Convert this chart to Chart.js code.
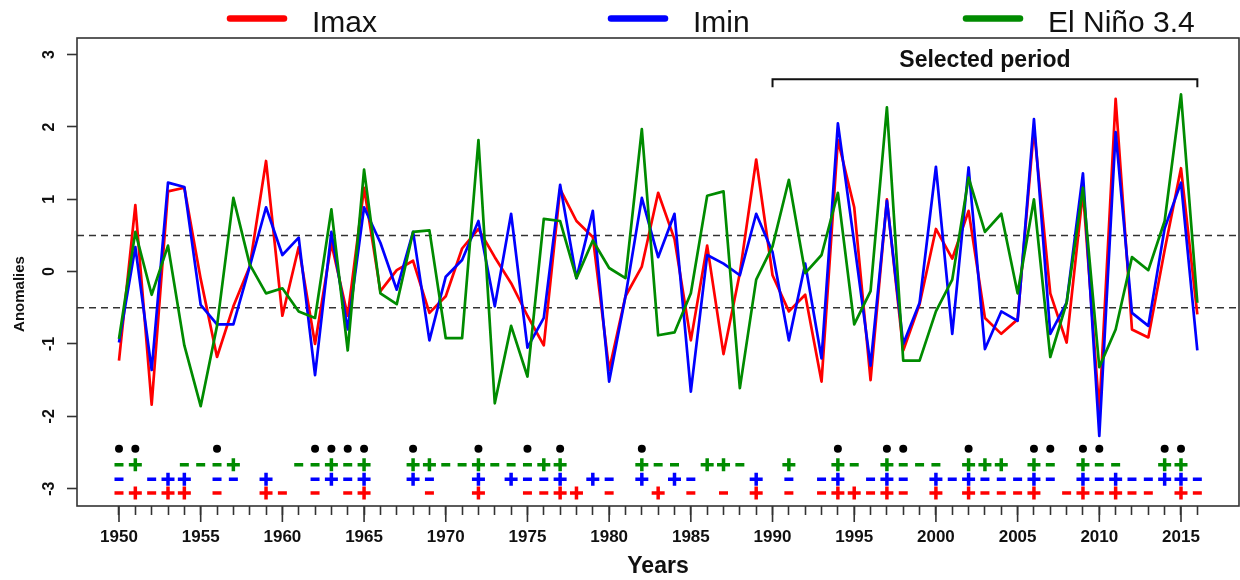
<!DOCTYPE html>
<html>
<head>
<meta charset="utf-8">
<title>Imax, Imin and El Niño 3.4 anomalies</title>
<script src="https://cdn.jsdelivr.net/npm/chart.js@4.4.1/dist/chart.umd.min.js"></script>
<style>
  html, body { margin: 0; padding: 0; background: #fff; }
  #wrap { width: 1240px; height: 580px; }
</style>
</head>
<body>
<div id="wrap"><canvas id="anomalyChart" width="1240" height="580"></canvas></div>
<script>
const years = [1950, 1951, 1952, 1953, 1954, 1955, 1956, 1957, 1958, 1959,
    1960, 1961, 1962, 1963, 1964, 1965, 1966, 1967, 1968, 1969,
    1970, 1971, 1972, 1973, 1974, 1975, 1976, 1977, 1978, 1979,
    1980, 1981, 1982, 1983, 1984, 1985, 1986, 1987, 1988, 1989,
    1990, 1991, 1992, 1993, 1994, 1995, 1996, 1997, 1998, 1999,
    2000, 2001, 2002, 2003, 2004, 2005, 2006, 2007, 2008, 2009,
    2010, 2011, 2012, 2013, 2014, 2015, 2016];

const imax = [-1.23, 0.92, -1.84, 1.11, 1.16, -0.1, -1.18, -0.48, 0.07, 1.53,
    -0.61, 0.34, -1.0, 0.39, -0.61, 1.16, -0.27, 0.02, 0.15, -0.57,
    -0.34, 0.32, 0.59, 0.2, -0.16, -0.61, -1.02, 1.14, 0.7, 0.48,
    -1.36, -0.34, 0.07, 1.09, 0.45, -0.95, 0.36, -1.14, -0.02, 1.55,
    -0.05, -0.55, -0.32, -1.52, 1.82, 0.89, -1.5, 1.0, -1.09, -0.45,
    0.59, 0.18, 0.84, -0.64, -0.86, -0.66, 1.98, -0.3, -0.98, 1.11,
    -1.93, 2.39, -0.8, -0.91, 0.3, 1.43, -0.59];

const imin = [-0.98, 0.34, -1.36, 1.23, 1.17, -0.46, -0.73, -0.73, 0.07, 0.89,
    0.23, 0.47, -1.43, 0.55, -0.8, 0.89, 0.4, -0.25, 0.55, -0.95,
    -0.07, 0.16, 0.7, -0.48, 0.8, -1.05, -0.64, 1.2, -0.09, 0.84,
    -1.52, -0.34, 1.02, 0.2, 0.8, -1.66, 0.23, 0.11, -0.05, 0.8,
    0.27, -0.95, 0.11, -1.2, 2.05, 0.4, -1.3, 0.98, -1.0, -0.43,
    1.45, -0.86, 1.44, -1.07, -0.55, -0.68, 2.11, -0.86, -0.43, 1.36,
    -2.27, 1.93, -0.57, -0.75, 0.6, 1.23, -1.09];

const nino = [-0.93, 0.55, -0.32, 0.36, -1.02, -1.86, -0.75, 1.02, 0.1, -0.3,
    -0.23, -0.55, -0.64, 0.86, -1.09, 1.41, -0.3, -0.45, 0.55, 0.57,
    -0.92, -0.92, 1.82, -1.82, -0.75, -1.45, 0.73, 0.7, -0.09, 0.43,
    0.05, -0.09, 1.97, -0.88, -0.84, -0.3, 1.05, 1.11, -1.61, -0.11,
    0.35, 1.27, -0.02, 0.23, 1.09, -0.73, -0.27, 2.27, -1.23, -1.23,
    -0.55, -0.11, 1.3, 0.55, 0.8, -0.3, 1.0, -1.18, -0.43, 1.16,
    -1.32, -0.8, 0.2, 0.02, 0.7, 2.45, -0.43];

// years marked with + / - / dot under the curves
const dotYears = [1950, 1951, 1956, 1962, 1963, 1964, 1965, 1968, 1972, 1975, 1977,
    1982, 1994, 1997, 1998, 2002, 2006, 2007, 2009, 2010, 2014, 2015];
const ninoPlus = [1951, 1957, 1963, 1965, 1968, 1969, 1972, 1976, 1977, 1982, 1986,
    1987, 1991, 1994, 1997, 2002, 2003, 2004, 2006, 2009, 2014, 2015];
const ninoMinus = [1950, 1954, 1955, 1956, 1961, 1962, 1964, 1970, 1971, 1973, 1974,
    1975, 1983, 1984, 1988, 1995, 1998, 1999, 2000, 2007, 2010, 2011];
const iminPlus = [1953, 1954, 1959, 1963, 1965, 1968, 1972, 1974, 1977, 1979, 1982,
    1984, 1989, 1994, 1997, 2000, 2002, 2006, 2009, 2011, 2014, 2015];
const iminMinus = [1950, 1952, 1956, 1957, 1962, 1964, 1969, 1975, 1976, 1980, 1985,
    1991, 1993, 1996, 1998, 2001, 2003, 2004, 2005, 2007, 2010, 2012, 2013, 2016];
const imaxPlus = [1951, 1953, 1954, 1959, 1965, 1972, 1977, 1978, 1983, 1989, 1994,
    1995, 1997, 2000, 2002, 2006, 2009, 2011, 2015];
const imaxMinus = [1950, 1952, 1956, 1960, 1962, 1964, 1969, 1975, 1976, 1980, 1985,
    1987, 1991, 1993, 1996, 1998, 2003, 2004, 2005, 2008, 2010, 2012, 2013, 2016];

const xTickLabels = [1950, 1955, 1960, 1965, 1970, 1975, 1980, 1985, 1990, 1995, 2000, 2005, 2010, 2015];
const yTickValues = [-3, -2, -1, 0, 1, 2, 3];
const thresholds = [0.5, -0.5];
const selectedPeriod = [1990, 2016];

// vertical level of each row of signs
const rowLevel = { dot: -2.45, nino: -2.67, imin: -2.87, imax: -3.06 };

const RED = '#ff0000';
const BLUE = '#0000ff';
const GREEN = '#008b00';
const FONT = '"Liberation Sans", Arial, sans-serif';

function series(values) {
    return years.map((yr, i) => ({ x: yr, y: values[i] }));
}

function signs(list, level) {
    return list.map(yr => ({ x: yr, y: level }));
}

function lineSet(label, values, color, order) {
    return {
        label: label,
        data: series(values),
        borderColor: color,
        backgroundColor: color,
        borderWidth: 2.7,
        borderJoinStyle: 'round',
        pointRadius: 0,
        tension: 0,
        order: order
    };
}

function signSet(list, level, color, style) {
    return {
        data: signs(list, level),
        showLine: false,
        pointStyle: style,
        pointRadius: style === 'cross' ? 6.5 : 4.5,
        pointBorderWidth: 3.5,
        pointBorderColor: color,
        pointBackgroundColor: color,
        order: 5
    };
}

const decorPlugin = {
    id: 'decor',
    beforeDatasetsDraw(chart) {
        const { ctx, chartArea: a, scales: { y } } = chart;
        ctx.save();
        ctx.strokeStyle = '#333';
        ctx.lineWidth = 1.6;
        ctx.setLineDash([7, 5]);
        thresholds.forEach(t => {
            const py = y.getPixelForValue(t);
            ctx.beginPath();
            ctx.moveTo(a.left, py);
            ctx.lineTo(a.right, py);
            ctx.stroke();
        });
        ctx.restore();
    },
    afterDraw(chart, args, opts) {
        const { ctx, chartArea: a, scales: { x, y } } = chart;
        ctx.save();

        // box around the plot
        ctx.strokeStyle = '#333';
        ctx.lineWidth = 1.6;
        ctx.strokeRect(a.left, a.top, a.right - a.left, a.bottom - a.top);

        // labelled years get a longer tick
        ctx.beginPath();
        xTickLabels.forEach(v => {
            const px = x.getPixelForValue(v);
            ctx.moveTo(px, a.bottom);
            ctx.lineTo(px, a.bottom + opts.majorTick);
        });
        ctx.stroke();

        // y axis title, set a little below the middle as in the figure
        ctx.save();
        ctx.translate(opts.yTitleX, opts.yTitleY);
        ctx.rotate(-Math.PI / 2);
        ctx.fillStyle = '#111';
        ctx.font = 'bold 15px ' + FONT;
        ctx.textAlign = 'center';
        ctx.textBaseline = 'middle';
        ctx.fillText('Anomalies', 0, 0);
        ctx.restore();

        // selected period bracket
        const x0 = x.getPixelForValue(selectedPeriod[0]);
        const x1 = x.getPixelForValue(selectedPeriod[1]);
        const yb = y.getPixelForValue(opts.bracketLevel);
        const yf = y.getPixelForValue(opts.bracketFoot);
        ctx.strokeStyle = '#111';
        ctx.lineWidth = 2;
        ctx.beginPath();
        ctx.moveTo(x0, yf);
        ctx.lineTo(x0, yb);
        ctx.lineTo(x1, yb);
        ctx.lineTo(x1, yf);
        ctx.stroke();
        ctx.fillStyle = '#111';
        ctx.font = 'bold 23px ' + FONT;
        ctx.textAlign = 'center';
        ctx.textBaseline = 'middle';
        ctx.fillText('Selected period', (x0 + x1) / 2, y.getPixelForValue(opts.labelLevel));

        // legend along the top
        ctx.font = '30px ' + FONT;
        ctx.textAlign = 'left';
        ctx.textBaseline = 'alphabetic';
        chart.data.datasets.slice(0, 3).forEach((d, i) => {
            const lx = opts.legendX[i];
            ctx.strokeStyle = d.borderColor;
            ctx.lineWidth = 6.5;
            ctx.lineCap = 'round';
            ctx.beginPath();
            ctx.moveTo(lx + 3, opts.legendY);
            ctx.lineTo(lx + 57, opts.legendY);
            ctx.stroke();
            ctx.fillStyle = '#111';
            ctx.fillText(d.label, lx + 85, opts.legendY + 13);
        });

        ctx.restore();
    }
};

const ctx = document.getElementById('anomalyChart').getContext('2d');
new Chart(ctx, {
    type: 'line',
    data: {
        datasets: [
            lineSet('Imax', imax, RED, 2),
            lineSet('Imin', imin, BLUE, 1),
            lineSet('El Niño 3.4', nino, GREEN, 0),
            {
                data: signs(dotYears, rowLevel.dot),
                showLine: false,
                pointStyle: 'circle',
                pointRadius: 4,
                pointBorderWidth: 0,
                pointBackgroundColor: '#000',
                order: 5
            },
            signSet(ninoPlus, rowLevel.nino, GREEN, 'cross'),
            signSet(ninoMinus, rowLevel.nino, GREEN, 'line'),
            signSet(iminPlus, rowLevel.imin, BLUE, 'cross'),
            signSet(iminMinus, rowLevel.imin, BLUE, 'line'),
            signSet(imaxPlus, rowLevel.imax, RED, 'cross'),
            signSet(imaxMinus, rowLevel.imax, RED, 'line')
        ]
    },
    options: {
        responsive: false,
        animation: false,
        events: [],
        layout: {
            autoPadding: false,
            padding: { top: 38, right: 1, left: 0, bottom: 0 }
        },
        scales: {
            x: {
                type: 'linear',
                min: 1947.43,
                max: 2018.55,
                afterBuildTicks: scale => {
                    scale.ticks = years.map(v => ({ value: v }));
                },
                afterFit: scale => {
                    scale.height = 74;
                },
                ticks: {
                    autoSkip: false,
                    maxRotation: 0,
                    padding: 12,
                    color: '#111',
                    font: { family: FONT, size: 17, weight: 'bold' },
                    callback: value => xTickLabels.includes(value) ? String(value) : ''
                },
                grid: {
                    drawOnChartArea: false,
                    tickLength: 9,
                    tickColor: '#333',
                    tickWidth: 1.6
                },
                border: { display: false },
                title: {
                    display: true,
                    text: 'Years',
                    color: '#111',
                    font: { family: FONT, size: 23, weight: 'bold' },
                    padding: { top: 0, bottom: 0 }
                }
            },
            y: {
                min: -3.24,
                max: 3.23,
                afterBuildTicks: scale => {
                    scale.ticks = yTickValues.map(v => ({ value: v }));
                },
                afterFit: scale => {
                    scale.width = 77;
                },
                ticks: {
                    minRotation: 90,
                    maxRotation: 90,
                    crossAlign: 'center',
                    padding: 10,
                    color: '#111',
                    font: { family: FONT, size: 16, weight: 'bold' }
                },
                grid: {
                    drawOnChartArea: false,
                    tickLength: 10,
                    tickColor: '#333',
                    tickWidth: 1.6
                },
                border: { display: false }
            }
        },
        plugins: {
            legend: { display: false },
            tooltip: { enabled: false },
            decor: {
                majorTick: 16,
                bracketLevel: 2.66,
                bracketFoot: 2.55,
                labelLevel: 2.91,
                yTitleX: 20,
                yTitleY: 294,
                legendX: [227, 608, 963],
                legendY: 18.5
            }
        }
    },
    plugins: [decorPlugin]
});
</script>
</body>
</html>
